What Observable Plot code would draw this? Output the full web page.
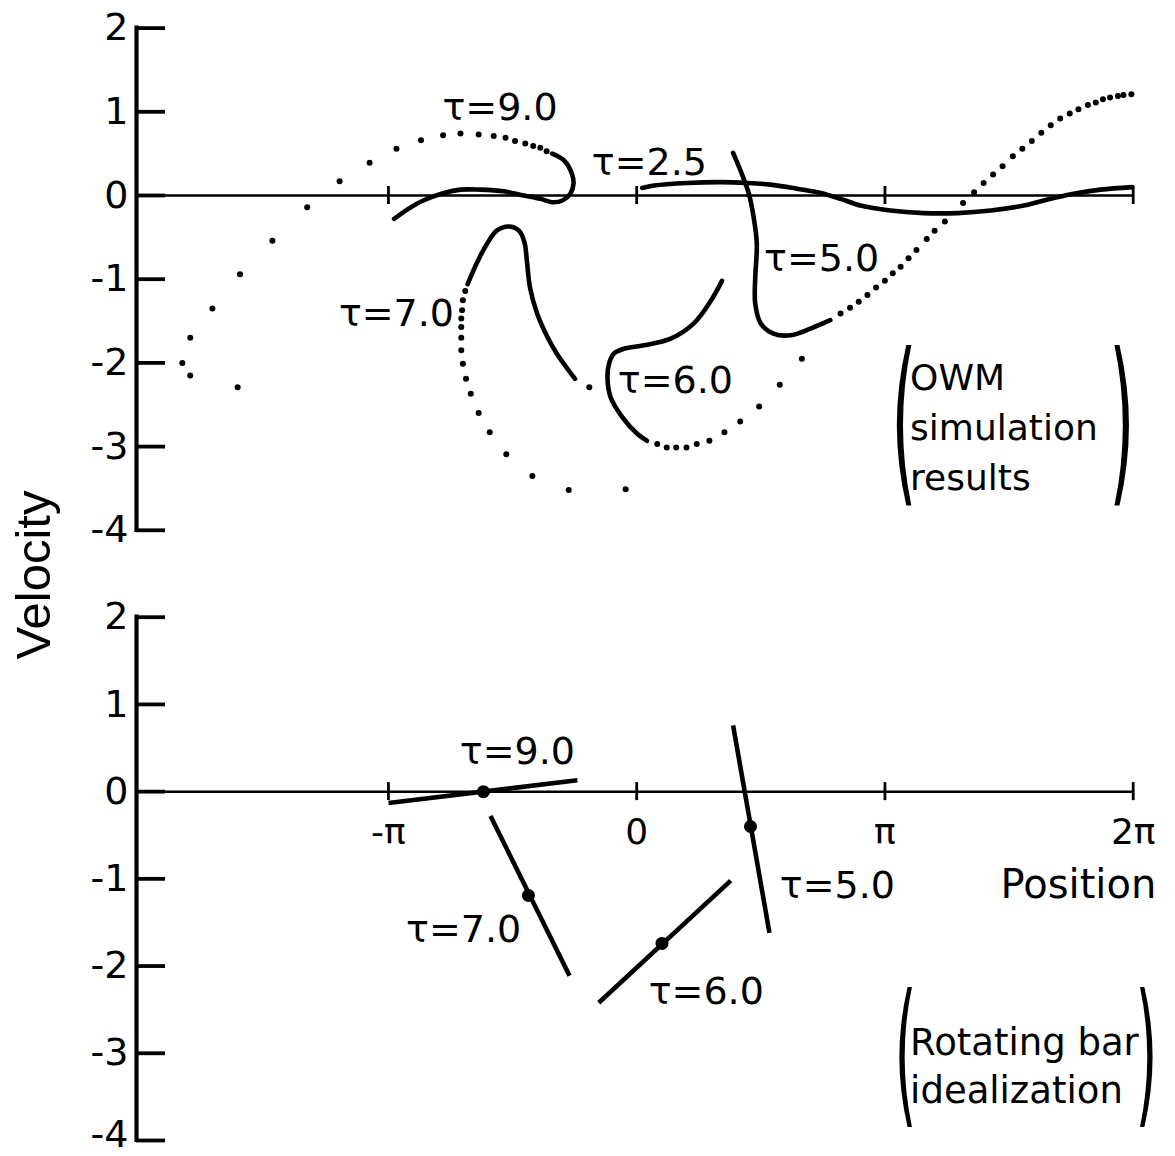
<!DOCTYPE html>
<html><head><meta charset="utf-8">
<script src="https://cdn.jsdelivr.net/npm/d3@7"></script>
<script src="https://cdn.jsdelivr.net/npm/@observablehq/plot@0.6"></script>
<style>
html,body{margin:0;padding:0;background:#fff;overflow:hidden;}
#wrap{position:relative;width:1175px;height:1156px;overflow:hidden;background:#fff;}
#top,#bottom{position:absolute;left:0;}
#top{top:0;} #bottom{top:580px;}
#ylabel{position:absolute;left:33px;top:575px;transform:translate(-50%,-50%) rotate(-90deg);font-family:"Liberation Sans",Arial,sans-serif;font-size:49px;white-space:nowrap;color:#000;line-height:1.15;}
</style></head><body>
<div id="wrap"><div id="top"></div><div id="bottom"></div><div id="ylabel">Velocity</div></div>
<script>
// ---------- axes ----------
const xDomain = [-6.33, 2 * Math.PI];
const yDomain = [-4, 2];
const yTicks = [-4, -3, -2, -1, 0, 1, 2];
const yTickLabels = ["-4", "-3", "-2", "-1", "0", "1", "2"];
const xTicks = [-Math.PI, 0, Math.PI, 2 * Math.PI];
const xTickLabels = ["-π", "0", "π", "2π"];

// ---------- top panel: OWM simulation results ([position, velocity]) ----------
const tau9Dots = [[-5.05,-2.29],[-5.65,-2.15],[-5.75,-2.00],[-5.65,-1.70],[-5.37,-1.35],[-5.02,-0.94],[-4.61,-0.54],[-4.17,-0.14],[-3.76,0.17],[-3.38,0.39],[-3.04,0.56],[-2.73,0.66],[-2.45,0.72],[-2.23,0.74],[-2.00,0.73],[-1.81,0.71],[-1.66,0.69],[-1.54,0.65],[-1.41,0.62],[-1.31,0.59],[-1.22,0.57],[-1.14,0.53]];
const tau9Line = [[-1.07,0.50],[-0.92,0.42],[-0.82,0.26],[-0.80,0.14],[-0.84,0.02],[-0.94,-0.06],[-1.07,-0.08],[-1.22,-0.04],[-1.43,0.00],[-1.68,0.05],[-1.98,0.07],[-2.23,0.07],[-2.44,0.03],[-2.70,-0.06],[-2.89,-0.16],[-3.07,-0.28]];
const tau7Dots = [[-0.14,-3.51],[-0.86,-3.52],[-1.32,-3.35],[-1.65,-3.09],[-1.86,-2.83],[-2.00,-2.60],[-2.10,-2.37],[-2.16,-2.19],[-2.20,-2.01],[-2.22,-1.85],[-2.22,-1.70],[-2.22,-1.57],[-2.22,-1.47],[-2.21,-1.37],[-2.20,-1.25],[-2.17,-1.14],[-0.60,-2.29]];
const tau7Line = [[-2.14,-1.06],[-2.02,-0.80],[-1.89,-0.57],[-1.77,-0.42],[-1.62,-0.37],[-1.49,-0.42],[-1.42,-0.56],[-1.39,-0.78],[-1.35,-1.10],[-1.26,-1.41],[-1.13,-1.69],[-1.01,-1.89],[-0.90,-2.04],[-0.78,-2.19]];
const tau6Line = [[1.08,-1.02],[0.93,-1.27],[0.72,-1.53],[0.43,-1.71],[0.09,-1.79],[-0.16,-1.83],[-0.29,-1.89],[-0.35,-2.01],[-0.37,-2.17],[-0.33,-2.41],[-0.18,-2.65],[0.01,-2.85],[0.13,-2.93]];
const tau6Dots = [[0.26,-2.97],[0.38,-3.01],[0.50,-3.01],[0.63,-3.01],[0.76,-2.97],[0.92,-2.93],[1.11,-2.83],[1.31,-2.70],[1.55,-2.52],[1.81,-2.26],[2.09,-1.95]];
const tau25Line = [[0.07,0.09],[0.22,0.12],[0.64,0.15],[1.06,0.16],[1.40,0.15],[1.69,0.13],[2.03,0.08],[2.33,0.03],[2.58,-0.04],[2.83,-0.12],[3.21,-0.18],[3.63,-0.21],[4.06,-0.21],[4.48,-0.18],[4.90,-0.12],[5.19,-0.05],[5.53,0.02],[5.87,0.07],[6.27,0.10]];
const tau5Line = [[1.22,0.51],[1.33,0.26],[1.42,0.02],[1.48,-0.26],[1.52,-0.58],[1.50,-0.98],[1.50,-1.29],[1.57,-1.53],[1.73,-1.65],[1.95,-1.67],[2.20,-1.59],[2.45,-1.49]];
const tau5Dots = [[2.58,-1.41],[2.70,-1.34],[2.81,-1.27],[2.92,-1.19],[3.03,-1.10],[3.14,-1.02],[3.24,-0.93],[3.34,-0.85],[3.44,-0.75],[3.54,-0.65],[3.67,-0.52],[3.77,-0.42],[3.90,-0.31],[4.13,-0.09],[4.27,0.04],[4.39,0.15],[4.51,0.25],[4.63,0.35],[4.76,0.47],[4.88,0.56],[5.00,0.65],[5.12,0.75],[5.24,0.84],[5.36,0.92],[5.48,0.98],[5.59,1.03],[5.71,1.08],[5.81,1.11],[5.90,1.15],[5.99,1.17],[6.09,1.19],[6.16,1.20],[6.26,1.21]];
const topLabelText = ["τ=9.0", "τ=2.5", "τ=5.0", "τ=7.0", "τ=6.0"];
const topLabelX = [-1.73, 0.16, 2.34, -3.04, 0.49];
const topLabelY = [1.05, 0.39, -0.76, -1.41, -2.21];
const topNote = "OWM\nsimulation\nresults";
const topNoteX = 3.46, topNoteY = -2.73;
const topParenX = [3.38, 6.14], topParenY = -2.73;

// ---------- bottom panel: rotating bar idealization ----------
const barTau = ["τ=9.0", "τ=7.0", "τ=6.0", "τ=5.0"];
const barX1 = [-3.14, -1.85, -0.48, 1.22];
const barY1 = [-0.13, -0.28, -2.42, 0.76];
const barX2 = [-0.75, -0.85, 1.19, 1.68];
const barY2 = [0.13, -2.11, -1.02, -1.62];
const barMidX = [-1.94, -1.37, 0.32, 1.44];
const barMidY = [0.00, -1.19, -1.74, -0.40];
const botLabelText = ["τ=9.0", "τ=7.0", "τ=5.0", "τ=6.0"];
const botLabelX = [-1.51, -2.19, 2.54, 0.88];
const botLabelY = [0.46, -1.58, -1.08, -2.29];
const botNote = "Rotating bar\nidealization";
const botNoteX = 3.46, botNoteY = -3.12;
const botParenX = [3.40, 6.45], botParenY = -3.03;
const posLabel = "Position", posLabelX = 5.59, posLabelY = -1.07;

// ---------- helpers ----------
const FONT = '"DejaVu Sans", sans-serif';
const px = d => d[0], py = d => d[1];
const fmtY = d => yTickLabels[yTicks.indexOf(d)];

function axisMarks(isBottom) {
  const labelMarks = isBottom
    ? [
        Plot.axisY({ticks: yTicks.filter(t => t !== yDomain[0]), tickSize: 0, tickPadding: 8, fontSize: 38, label: null, tickFormat: fmtY}),
        Plot.axisY({ticks: [yDomain[0]], tickSize: 0, tickPadding: 8, fontSize: 38, label: null, dy: -6, tickFormat: fmtY})
      ]
    : [Plot.axisY({ticks: yTicks, tickSize: 0, tickPadding: 8, fontSize: 38, label: null, tickFormat: fmtY})];
  return [
    Plot.ruleY([0], {x1: xDomain[0], x2: xDomain[1], strokeWidth: 2.5}),
    Plot.ruleX([xDomain[0]], {y1: yDomain[0], y2: yDomain[1], strokeWidth: 4.2, strokeLinecap: "square"}),
    Plot.ruleY(yTicks, {x1: xDomain[0], x2: xDomain[0], insetRight: -29, strokeWidth: 3.8}),
    Plot.ruleX(xTicks, {y1: 0, y2: 0, insetTop: -9, insetBottom: -9, strokeWidth: 2.8}),
    ...labelMarks
  ];
}

function panel(height, marginTop, marginBottom, marks) {
  return Plot.plot({
    width: 1175, height, marginLeft: 136, marginRight: 42.3, marginTop, marginBottom,
    x: {domain: xDomain, axis: null},
    y: {domain: yDomain},
    style: {fontFamily: FONT, background: "white", color: "black", overflow: "visible"},
    marks
  });
}

function squeezeParens(svg, sx) {
  d3.select(svg).selectAll("text").filter(function () {
    const t = this.textContent;
    return t === "(" || t === ")";
  }).each(function () {
    const el = this;
    const tr = el.getAttribute("transform");
    if (tr && tr.includes("translate")) {
      el.setAttribute("transform", tr + ` scale(${sx},1)`);
    } else {
      const x = +el.getAttribute("x") || 0, y = +el.getAttribute("y") || 0;
      el.setAttribute("x", 0); el.setAttribute("y", 0);
      el.setAttribute("transform", `translate(${x},${y}) scale(${sx},1)`);
    }
  });
}

const lineOpts = {x: px, y: py, curve: "catmull-rom", strokeWidth: 4.6, strokeLinecap: "round", strokeLinejoin: "round"};
const dotOpts = {x: px, y: py, r: 3, fill: "black"};

// ---------- top ----------
const topSvg = panel(580, 27.6, 50.2, [
  ...axisMarks(false),
  Plot.dot(tau9Dots, dotOpts),
  Plot.line(tau9Line, lineOpts),
  Plot.dot(tau7Dots, dotOpts),
  Plot.line(tau7Line, lineOpts),
  Plot.line(tau6Line, lineOpts),
  Plot.dot(tau6Dots, dotOpts),
  Plot.line(tau25Line, lineOpts),
  Plot.line(tau5Line, lineOpts),
  Plot.dot(tau5Dots, dotOpts),
  Plot.text(topLabelText, {x: (d, i) => topLabelX[i], y: (d, i) => topLabelY[i], text: d => d, fontSize: 38}),
  Plot.text([topNote], {x: topNoteX, y: topNoteY, text: d => d, textAnchor: "start", fontSize: 36, lineHeight: 1.39}),
  Plot.text(["(", ")"], {x: (d, i) => topParenX[i], y: topParenY, text: d => d, fontSize: 180})
]);
squeezeParens(topSvg, 0.36);
document.getElementById("top").appendChild(topSvg);

// ---------- bottom ----------
const botSvg = panel(576, 36.7, 16, [
  ...axisMarks(true),
  Plot.link(barTau, {x1: (d, i) => barX1[i], y1: (d, i) => barY1[i], x2: (d, i) => barX2[i], y2: (d, i) => barY2[i], strokeWidth: 4.6}),
  Plot.dot(barTau, {x: (d, i) => barMidX[i], y: (d, i) => barMidY[i], r: 6.5, fill: "black"}),
  Plot.text(xTickLabels, {x: (d, i) => xTicks[i], y: 0, dy: 41, text: d => d, fontSize: 36}),
  Plot.text([posLabel], {x: posLabelX, y: posLabelY, text: d => d, fontSize: 40}),
  Plot.text(botLabelText, {x: (d, i) => botLabelX[i], y: (d, i) => botLabelY[i], text: d => d, fontSize: 38}),
  Plot.text([botNote], {x: botNoteX, y: botNoteY, text: d => d, textAnchor: "start", fontSize: 37, lineHeight: 1.28}),
  Plot.text(["(", ")"], {x: (d, i) => botParenX[i], y: botParenY, text: d => d, fontSize: 156})
]);
squeezeParens(botSvg, 0.36);
document.getElementById("bottom").appendChild(botSvg);
</script>
</body></html>
